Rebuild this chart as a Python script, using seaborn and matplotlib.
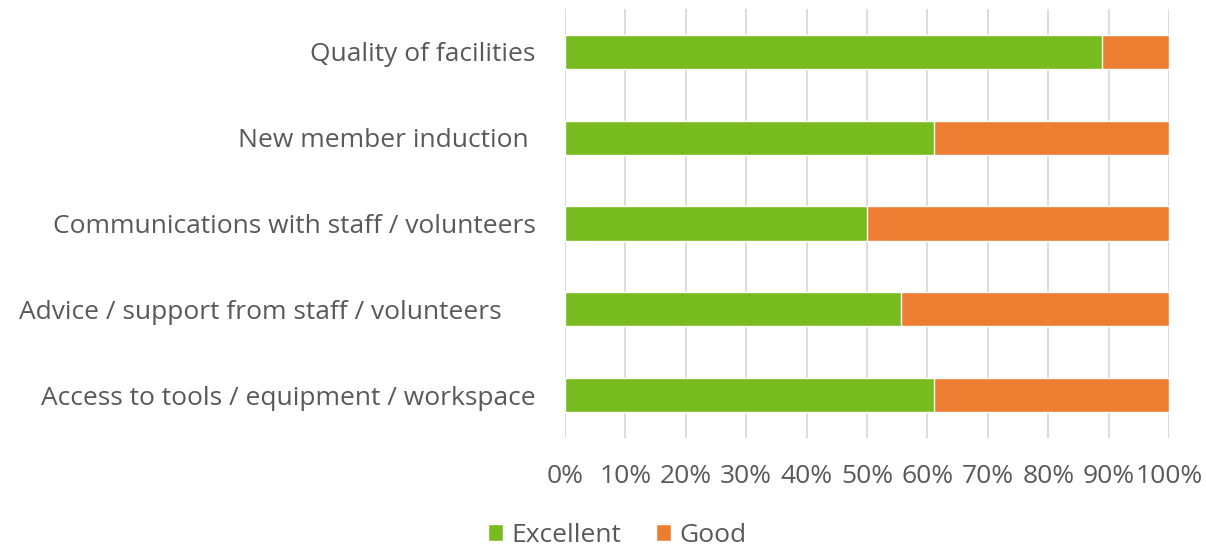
import matplotlib
matplotlib.use("Agg")
import matplotlib.pyplot as plt
import seaborn as sns
import pandas as pd
from matplotlib.patches import Patch

# Survey ratings (percent of respondents)
categories = [
    "Quality of facilities",
    "New member induction ",
    "Communications with staff / volunteers",
    "Advice / support from staff / volunteers     ",
    "Access to tools / equipment / workspace",
]
excellent = [88.9, 61.1, 50.0, 55.6, 61.1]
good = [11.1, 38.9, 50.0, 44.4, 38.9]

green = "#78BB1E"
orange = "#ED7D31"
text_col = "#595959"

sns.set_theme(style="white")
plt.rcParams["font.family"] = ["Open Sans", "DejaVu Sans"]

df = pd.DataFrame({"category": categories, "excellent": excellent, "good": good})
df["total"] = df["excellent"] + df["good"]

fig = plt.figure(figsize=(12.06, 5.48), dpi=100)
ax = fig.add_axes([565 / 1206, 1 - 438 / 548, (1169 - 565) / 1206, (438 - 9) / 548])

# stacked: full bar in orange, excellent part drawn on top in green
sns.barplot(data=df, x="total", y="category", color=orange, width=0.4,
            saturation=1, ax=ax, orient="h", zorder=2)
sns.barplot(data=df, x="excellent", y="category", color=green, width=0.4,
            saturation=1, ax=ax, orient="h", zorder=3)

fs = 19
ax.set_xlim(0, 100)
ax.set_xticks(range(0, 101, 10))
ax.set_xticklabels([f"{v}%" for v in range(0, 101, 10)])
ax.xaxis.grid(True, color="#D9D9D9", linewidth=1.3, zorder=0)
ax.set_axisbelow(True)
for s in ax.spines.values():
    s.set_visible(False)
ax.set_xlabel("")
ax.set_ylabel("")
ax.tick_params(axis="x", length=0, pad=19, labelsize=fs, labelcolor=text_col)
ax.tick_params(axis="y", length=0, pad=21, labelsize=fs, labelcolor=text_col)

handles = [Patch(facecolor=green, label="Excellent"), Patch(facecolor=orange, label="Good")]
fig.legend(handles=handles, loc="center", bbox_to_anchor=(617 / 1206, 1 - 535 / 548),
           ncol=2, frameon=False, fontsize=fs, labelcolor=text_col,
           handlelength=0.6, handleheight=0.6, handletextpad=0.3, columnspacing=1.3)

fig.savefig("out.png", dpi=100)
